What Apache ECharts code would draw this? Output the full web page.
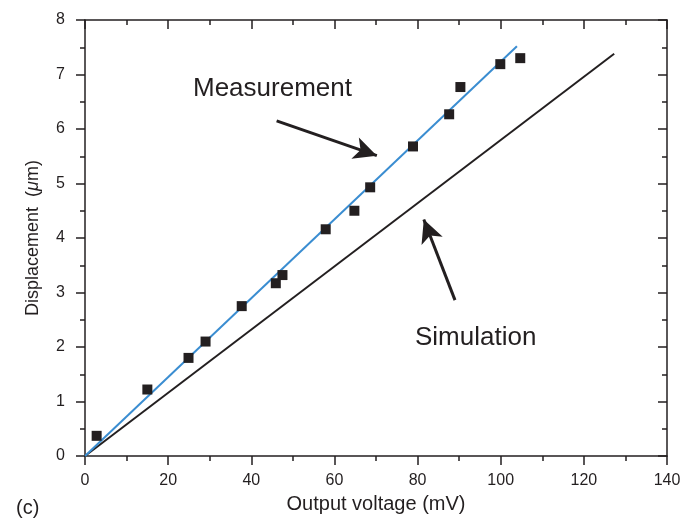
<!DOCTYPE html>
<html>
<head>
  <meta charset="utf-8">
  <title>Displacement vs output voltage</title>
  <script src="https://cdn.jsdelivr.net/npm/echarts@6/dist/echarts.min.js"></script>
  <style>
    html, body { margin: 0; padding: 0; background: #fff; }
    #main { width: 697px; height: 520px; }
  </style>
</head>
<body>
<div id="main"></div>
<script>
  // measured points (mV, um)
  var voltage = [2.8, 15.0, 24.9, 29.0, 37.7, 45.9, 47.5, 57.9, 64.8, 68.6, 78.9, 87.6, 90.3, 99.9, 104.7];
  var measured = [0.37, 1.22, 1.80, 2.10, 2.75, 3.17, 3.32, 4.16, 4.50, 4.93, 5.68, 6.27, 6.77, 7.19, 7.30];
  // fitted line through the measurement and the simulation line
  var fitLine = [[0, 0], [103.9, 7.52]];
  var simLine = [[0, 0], [127.3, 7.38]];
  // annotation arrows: [start, tip]
  var measArrow = [[46.1, 6.15], [70.2, 5.51]];
  var simArrow = [[89.0, 2.86], [81.5, 4.34]];

  var ink = '#231f20';
  var font = "'Liberation Sans', Arial, sans-serif";

  var points = [];
  for (var i = 0; i < voltage.length; i++) {
    points.push([voltage[i], measured[i]]);
  }

  function axisBase(min, max, interval) {
    return {
      type: 'value', min: min, max: max, interval: interval,
      splitLine: { show: false },
      axisLine: { show: true, onZero: false, lineStyle: { color: ink, width: 1.5 } },
      axisTick: { show: true, length: 9, lineStyle: { color: ink, width: 1.5 } },
      minorTick: { show: true, splitNumber: 2, length: 5, lineStyle: { color: ink, width: 1.5 } }
    };
  }

  var xBottom = axisBase(0, 140, 20);
  xBottom.position = 'bottom';
  xBottom.name = 'Output voltage (mV)';
  xBottom.nameLocation = 'middle';
  xBottom.nameGap = 38;
  xBottom.nameTextStyle = { fontFamily: font, fontSize: 20, color: ink };
  xBottom.axisLabel = { fontFamily: font, fontSize: 16, color: ink, margin: 17 };

  var xTop = axisBase(0, 140, 20);
  xTop.position = 'top';
  xTop.axisTick.inside = true;
  xTop.minorTick.inside = true;
  xTop.axisLabel = { show: false };

  var yLeft = axisBase(0, 8, 1);
  yLeft.position = 'left';
  yLeft.name = 'Displacement  ({i|μ}m)';
  yLeft.nameLocation = 'middle';
  yLeft.nameGap = 43;
  yLeft.nameTextStyle = {
    fontFamily: font, fontSize: 18, color: ink,
    rich: { i: { fontFamily: font, fontSize: 18, fontStyle: 'italic', color: ink } }
  };
  yLeft.axisLabel = { fontFamily: font, fontSize: 16, color: ink, margin: 20 };

  var yRight = axisBase(0, 8, 1);
  yRight.position = 'right';
  yRight.axisTick.inside = true;
  yRight.minorTick.inside = true;
  yRight.axisLabel = { show: false };

  function arrow(pair) {
    return [
      { coord: pair[0], symbol: 'none' },
      { coord: pair[1], symbol: 'arrow', symbolSize: [17, 23] }
    ];
  }

  var chart = echarts.init(document.getElementById('main'));
  chart.setOption({
    animation: false,
    backgroundColor: '#fff',
    grid: { left: 85, right: 30, top: 20, bottom: 64 },
    xAxis: [xBottom, xTop],
    yAxis: [yLeft, yRight],
    graphic: [
      { type: 'text', left: 193, top: 76, style: { text: 'Measurement', fontFamily: font, fontSize: 26, fill: ink } },
      { type: 'text', left: 415, top: 325, style: { text: 'Simulation', fontFamily: font, fontSize: 26, fill: ink } },
      { type: 'text', left: 16, top: 498, style: { text: '(c)', fontFamily: font, fontSize: 20, fill: ink } }
    ],
    series: [
      {
        name: 'Simulation', type: 'line', data: simLine, symbol: 'none',
        lineStyle: { color: ink, width: 2 }, z: 2
      },
      {
        name: 'Fit', type: 'line', data: fitLine, symbol: 'none',
        lineStyle: { color: '#3a8dd1', width: 2 }, z: 3
      },
      {
        name: 'Measurement', type: 'scatter', data: points, symbol: 'rect', symbolSize: 10,
        itemStyle: { color: ink, opacity: 1 }, z: 4,
        markLine: {
          silent: true, animation: false,
          label: { show: false },
          lineStyle: { color: ink, width: 3, type: 'solid' },
          data: [arrow(measArrow), arrow(simArrow)]
        }
      }
    ]
  });
</script>
</body>
</html>
